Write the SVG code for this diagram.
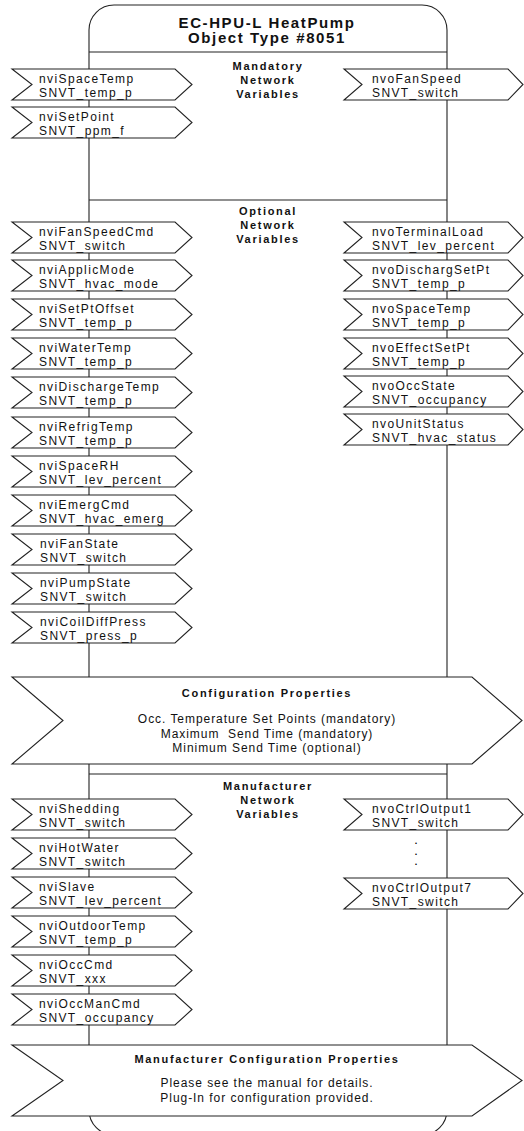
<svg xmlns="http://www.w3.org/2000/svg" xmlns:xlink="http://www.w3.org/1999/xlink" width="524" height="1131" viewBox="0 0 524 1131">
<style>
.box{fill:#fff;stroke:#222;stroke-width:1.1}
.line{fill:none;stroke:#222;stroke-width:1.1}
.t{font-family:"Liberation Sans",Arial,sans-serif;font-size:12px;letter-spacing:1.4px;fill:#111}
.c{font-family:"Liberation Sans",Arial,sans-serif;font-size:12px;letter-spacing:0.95px;fill:#111;text-anchor:middle}
.d{font-family:"Liberation Sans",Arial,sans-serif;font-size:9px;font-weight:bold;fill:#000;text-anchor:middle}
.b{font-family:"Liberation Sans",Arial,sans-serif;font-size:11px;font-weight:bold;letter-spacing:1.7px;fill:#111;text-anchor:middle}
.title{font-family:"Liberation Sans",Arial,sans-serif;font-size:15px;font-weight:bold;letter-spacing:1.6px;fill:#111;text-anchor:middle}
</style>
<defs>
<polygon id="inArrow" class="box" points="12,0 175,0 192,15.5 175,31 12,31 32,15.5"/>
<polygon id="outArrow" class="box" points="344,0 508,0 523,15.5 508,31 344,31 362,15.5"/>
</defs>
<rect x="0" y="0" width="524" height="1131" fill="#fff"/>
<g id="object">
<path class="line" d="M89 1110 L89 30 A25 25 0 0 1 114 5 L422 5 A25 25 0 0 1 447 30 L447 1110 A25 25 0 0 1 422 1135 L114 1135 A25 25 0 0 1 89 1110 Z"/>
<text class="title" x="267" y="28">EC-HPU-L HeatPump</text>
<text class="title" x="267" y="43">Object Type #8051</text>
</g>
<g id="connectors">
<line class="line" x1="89" y1="52" x2="447" y2="52"/>
<line class="line" x1="89" y1="200" x2="447" y2="200"/>
<line class="line" x1="89" y1="774" x2="447" y2="774"/>
</g>
<g id="mandatory-label">
<text class="b" x="268" y="70">Mandatory</text>
<text class="b" x="268" y="84">Network</text>
<text class="b" x="268" y="98">Variables</text>
</g>
<g id="optional-label">
<text class="b" x="268" y="215">Optional</text>
<text class="b" x="268" y="229">Network</text>
<text class="b" x="268" y="243">Variables</text>
</g>
<g id="manufacturer-label">
<text class="b" x="268" y="790">Manufacturer</text>
<text class="b" x="268" y="804">Network</text>
<text class="b" x="268" y="818">Variables</text>
</g>
<g id="nviSpaceTemp"><use xlink:href="#inArrow" y="69"/><text class="t" x="39" y="83">nviSpaceTemp</text><text class="t" x="39" y="97">SNVT_temp_p</text></g>
<g id="nviSetPoint"><use xlink:href="#inArrow" y="107"/><text class="t" x="39" y="121">nviSetPoint</text><text class="t" x="39" y="135">SNVT_ppm_f</text></g>
<g id="nvoFanSpeed"><use xlink:href="#outArrow" y="69"/><text class="t" x="372" y="83">nvoFanSpeed</text><text class="t" x="372" y="97">SNVT_switch</text></g>
<g id="nviFanSpeedCmd"><use xlink:href="#inArrow" y="222"/><text class="t" x="39" y="236">nviFanSpeedCmd</text><text class="t" x="39" y="250">SNVT_switch</text></g>
<g id="nviApplicMode"><use xlink:href="#inArrow" y="260"/><text class="t" x="39" y="274">nviApplicMode</text><text class="t" x="39" y="288">SNVT_hvac_mode</text></g>
<g id="nviSetPtOffset"><use xlink:href="#inArrow" y="299"/><text class="t" x="39" y="313">nviSetPtOffset</text><text class="t" x="39" y="327">SNVT_temp_p</text></g>
<g id="nviWaterTemp"><use xlink:href="#inArrow" y="338"/><text class="t" x="39" y="352">nviWaterTemp</text><text class="t" x="39" y="366">SNVT_temp_p</text></g>
<g id="nviDischargeTemp"><use xlink:href="#inArrow" y="377"/><text class="t" x="39" y="391">nviDischargeTemp</text><text class="t" x="39" y="405">SNVT_temp_p</text></g>
<g id="nviRefrigTemp"><use xlink:href="#inArrow" y="417"/><text class="t" x="39" y="431">nviRefrigTemp</text><text class="t" x="39" y="445">SNVT_temp_p</text></g>
<g id="nviSpaceRH"><use xlink:href="#inArrow" y="456"/><text class="t" x="39" y="470">nviSpaceRH</text><text class="t" x="39" y="484">SNVT_lev_percent</text></g>
<g id="nviEmergCmd"><use xlink:href="#inArrow" y="495"/><text class="t" x="39" y="509">nviEmergCmd</text><text class="t" x="39" y="523">SNVT_hvac_emerg</text></g>
<g id="nviFanState"><use xlink:href="#inArrow" y="534"/><text class="t" x="40" y="548">nviFanState</text><text class="t" x="40" y="562">SNVT_switch</text></g>
<g id="nviPumpState"><use xlink:href="#inArrow" y="573"/><text class="t" x="40" y="587">nviPumpState</text><text class="t" x="40" y="601">SNVT_switch</text></g>
<g id="nviCoilDiffPress"><use xlink:href="#inArrow" y="612"/><text class="t" x="40" y="626">nviCoilDiffPress</text><text class="t" x="40" y="640">SNVT_press_p</text></g>
<g id="nvoTerminalLoad"><use xlink:href="#outArrow" y="222"/><text class="t" x="372" y="236">nvoTerminalLoad</text><text class="t" x="372" y="250">SNVT_lev_percent</text></g>
<g id="nvoDischargSetPt"><use xlink:href="#outArrow" y="260"/><text class="t" x="372" y="274">nvoDischargSetPt</text><text class="t" x="372" y="288">SNVT_temp_p</text></g>
<g id="nvoSpaceTemp"><use xlink:href="#outArrow" y="299"/><text class="t" x="372" y="313">nvoSpaceTemp</text><text class="t" x="372" y="327">SNVT_temp_p</text></g>
<g id="nvoEffectSetPt"><use xlink:href="#outArrow" y="338"/><text class="t" x="372" y="352">nvoEffectSetPt</text><text class="t" x="372" y="366">SNVT_temp_p</text></g>
<g id="nvoOccState"><use xlink:href="#outArrow" y="376"/><text class="t" x="372" y="390">nvoOccState</text><text class="t" x="372" y="404">SNVT_occupancy</text></g>
<g id="nvoUnitStatus"><use xlink:href="#outArrow" y="414"/><text class="t" x="372" y="428">nvoUnitStatus</text><text class="t" x="372" y="442">SNVT_hvac_status</text></g>
<g id="configProperties">
<polygon class="box" points="12,677 472,677 522,720.5 472,764 12,764 63,720.5"/>
<text class="b" x="267" y="697">Configuration Properties</text>
<text class="c" x="267" y="723">Occ. Temperature Set Points (mandatory)</text>
<text class="c" x="267" y="738" xml:space="preserve">Maximum  Send Time (mandatory)</text>
<text class="c" x="267" y="752">Minimum Send Time (optional)</text>
</g>
<g id="nviShedding"><use xlink:href="#inArrow" y="799"/><text class="t" x="39" y="813">nviShedding</text><text class="t" x="39" y="827">SNVT_switch</text></g>
<g id="nviHotWater"><use xlink:href="#inArrow" y="838"/><text class="t" x="39" y="852">nviHotWater</text><text class="t" x="39" y="866">SNVT_switch</text></g>
<g id="nviSlave"><use xlink:href="#inArrow" y="877"/><text class="t" x="39" y="891">nviSlave</text><text class="t" x="39" y="905">SNVT_lev_percent</text></g>
<g id="nviOutdoorTemp"><use xlink:href="#inArrow" y="916"/><text class="t" x="39" y="930">nviOutdoorTemp</text><text class="t" x="39" y="944">SNVT_temp_p</text></g>
<g id="nviOccCmd"><use xlink:href="#inArrow" y="955"/><text class="t" x="39" y="969">nviOccCmd</text><text class="t" x="39" y="983">SNVT_xxx</text></g>
<g id="nviOccManCmd"><use xlink:href="#inArrow" y="994"/><text class="t" x="39" y="1008">nviOccManCmd</text><text class="t" x="39" y="1022">SNVT_occupancy</text></g>
<g id="nvoCtrlOutput1"><use xlink:href="#outArrow" y="799"/><text class="t" x="372" y="813">nvoCtrlOutput1</text><text class="t" x="372" y="827">SNVT_switch</text></g>
<g id="ellipsis">
<text class="d" x="416" y="844">.</text>
<text class="d" x="416" y="854.5">.</text>
<text class="d" x="416" y="865">.</text>
</g>
<g id="nvoCtrlOutput7"><use xlink:href="#outArrow" y="878"/><text class="t" x="372" y="892">nvoCtrlOutput7</text><text class="t" x="372" y="906">SNVT_switch</text></g>
<g id="mfrConfigProperties">
<polygon class="box" points="12,1045 472,1045 522,1080.5 472,1116 12,1116 63,1080.5"/>
<text class="b" x="267" y="1063">Manufacturer Configuration Properties</text>
<text class="c" x="267" y="1087">Please see the manual for details.</text>
<text class="c" x="267" y="1102">Plug-In for configuration provided.</text>
</g>
</svg>
